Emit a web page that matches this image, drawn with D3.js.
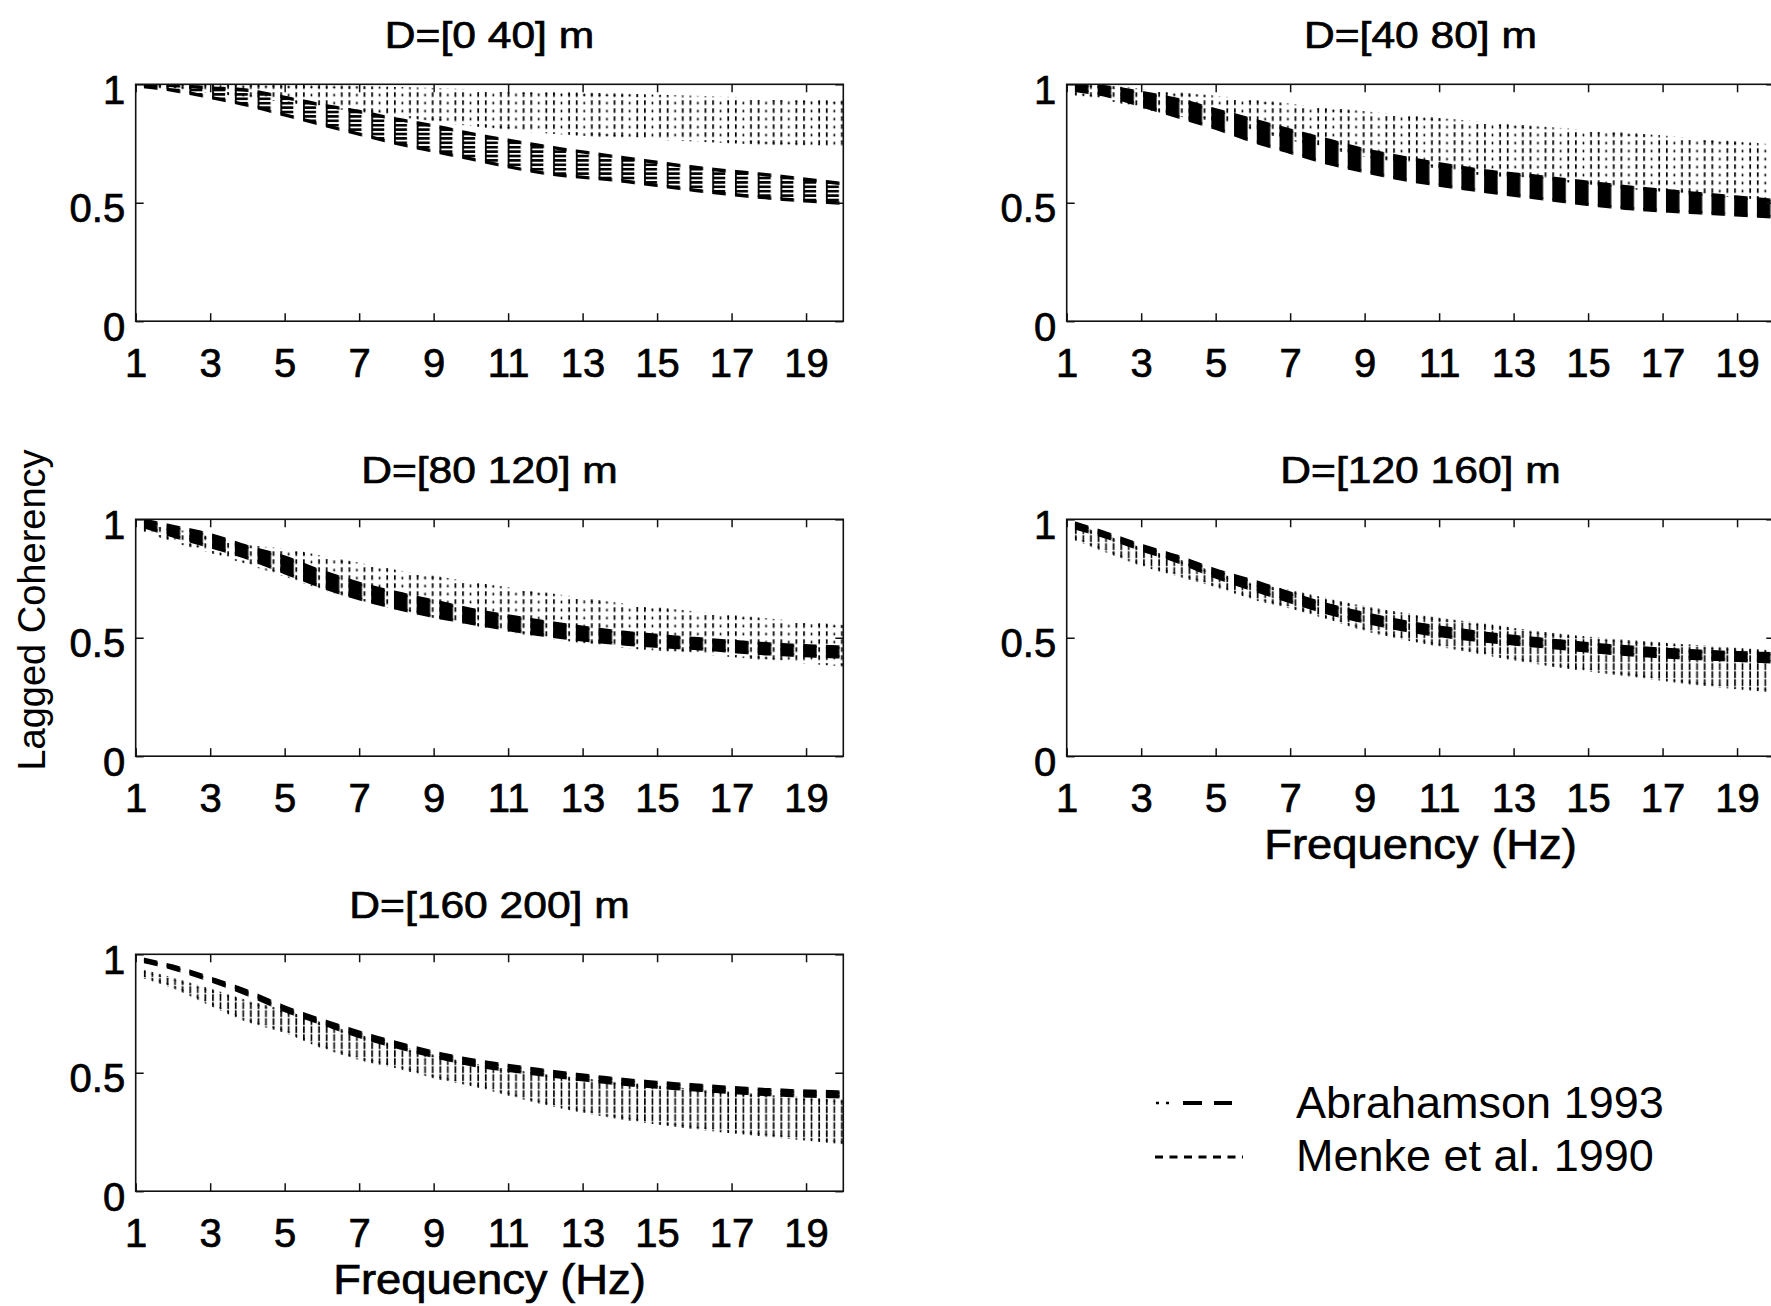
<!DOCTYPE html>
<html>
<head>
<meta charset="utf-8">
<script src="https://cdn.jsdelivr.net/npm/d3@7"></script>
<style>
  html, body { margin: 0; padding: 0; background: #fff; }
  svg { display: block; }
  text { font-family: "Liberation Sans", Arial, Helvetica, sans-serif; fill: #000; }
  .heavy { stroke: #000; stroke-width: 0.7px; }
</style>
</head>
<body>
<svg id="chart" width="1771" height="1306"></svg>
<script>
// ---- data -------------------------------------------------------------
const freqHz = [1.2, 2, 3, 4, 5, 6, 7, 8, 9, 10, 12, 14, 16, 18, 20];
const xTickValues = [1, 3, 5, 7, 9, 11, 13, 15, 17, 19];
const yTickValues = [0, 0.5, 1];
const binTitles = ["D=[0 40] m", "D=[40 80] m", "D=[80 120] m", "D=[120 160] m", "D=[160 200] m"];
const legendLabels = ["Abrahamson 1993", "Menke et al. 1990"];

// Abrahamson (1993) lagged coherency: upper / lower edge of the curve family
const abrHi_0_40   = [0.998, 0.995, 0.985, 0.975, 0.945, 0.913, 0.885, 0.853, 0.825, 0.792, 0.738, 0.692, 0.650, 0.617, 0.580];
const abrLo_0_40   = [0.990, 0.975, 0.945, 0.912, 0.871, 0.830, 0.790, 0.751, 0.718, 0.685, 0.624, 0.593, 0.553, 0.520, 0.498];
const abrHi_40_80  = [0.997, 0.990, 0.966, 0.935, 0.892, 0.850, 0.806, 0.765, 0.724, 0.692, 0.640, 0.605, 0.568, 0.538, 0.510];
const abrLo_40_80  = [0.975, 0.955, 0.910, 0.862, 0.815, 0.760, 0.713, 0.667, 0.632, 0.600, 0.553, 0.512, 0.477, 0.458, 0.440];
const abrHi_80_120 = [0.997, 0.970, 0.935, 0.885, 0.840, 0.780, 0.730, 0.690, 0.655, 0.620, 0.567, 0.525, 0.497, 0.474, 0.460];
const abrLo_80_120 = [0.970, 0.930, 0.885, 0.837, 0.775, 0.715, 0.665, 0.625, 0.590, 0.562, 0.510, 0.475, 0.455, 0.432, 0.418];
const abrHi_120_160 = [0.985, 0.945, 0.890, 0.842, 0.785, 0.740, 0.688, 0.640, 0.602, 0.570, 0.524, 0.490, 0.462, 0.443, 0.432];
const abrLo_120_160 = [0.965, 0.928, 0.872, 0.820, 0.757, 0.703, 0.653, 0.605, 0.567, 0.535, 0.490, 0.460, 0.430, 0.412, 0.398];
const abrHi_160_200 = [0.980, 0.950, 0.900, 0.845, 0.777, 0.722, 0.672, 0.627, 0.587, 0.555, 0.510, 0.473, 0.448, 0.428, 0.418];
const abrLo_160_200 = [0.970, 0.940, 0.890, 0.831, 0.763, 0.708, 0.654, 0.609, 0.569, 0.535, 0.490, 0.453, 0.428, 0.408, 0.398];

// Menke et al. (1990) lagged coherency: upper / lower edge of the curve family
const menHi_0_40   = [1.000, 1.000, 0.998, 0.996, 0.993, 0.990, 0.986, 0.982, 0.978, 0.973, 0.963, 0.955, 0.945, 0.935, 0.925];
const menLo_0_40   = [0.995, 0.985, 0.970, 0.950, 0.930, 0.910, 0.890, 0.870, 0.850, 0.830, 0.800, 0.780, 0.765, 0.750, 0.737];
const menHi_40_80  = [1.000, 0.990, 0.975, 0.960, 0.945, 0.930, 0.912, 0.895, 0.880, 0.865, 0.838, 0.812, 0.790, 0.765, 0.740];
const menLo_40_80  = [0.960, 0.940, 0.905, 0.870, 0.850, 0.810, 0.770, 0.735, 0.700, 0.675, 0.625, 0.600, 0.565, 0.540, 0.515];
const menHi_80_120 = [0.985, 0.955, 0.920, 0.885, 0.870, 0.840, 0.810, 0.780, 0.755, 0.730, 0.685, 0.640, 0.605, 0.575, 0.548];
const menLo_80_120 = [0.955, 0.910, 0.865, 0.815, 0.765, 0.710, 0.665, 0.625, 0.590, 0.560, 0.505, 0.465, 0.440, 0.410, 0.385];
const menHi_120_160 = [0.975, 0.930, 0.875, 0.825, 0.770, 0.725, 0.695, 0.660, 0.628, 0.600, 0.558, 0.515, 0.485, 0.462, 0.440];
const menLo_120_160 = [0.920, 0.870, 0.810, 0.765, 0.720, 0.668, 0.630, 0.585, 0.535, 0.500, 0.440, 0.385, 0.345, 0.305, 0.275];
const menHi_160_200 = [0.930, 0.895, 0.848, 0.800, 0.758, 0.705, 0.655, 0.610, 0.570, 0.535, 0.488, 0.455, 0.425, 0.400, 0.380];
const menLo_160_200 = [0.905, 0.863, 0.790, 0.720, 0.675, 0.610, 0.560, 0.525, 0.483, 0.450, 0.370, 0.310, 0.268, 0.235, 0.205];

// frequency sampling of the spectra (column spacing of the plotted marks)
const firstSampleHz = 1.2207;
const sampleStepHz = 0.6104;

// ---- layout -----------------------------------------------------------
const W = 707.6, H = 236.9;
const colX = [135.7, 1066.7];
const rowY = [84.3, 519.3, 954.3];
const grid = [[0, 0], [1, 0], [0, 1], [1, 1], [0, 2]];

const bins = [
  { title: binTitles[0], abrHi: abrHi_0_40,    abrLo: abrLo_0_40,    menHi: menHi_0_40,    menLo: menLo_0_40,    abrFill: "abrStriped", menFill: "menDots",  xLabel: false },
  { title: binTitles[1], abrHi: abrHi_40_80,   abrLo: abrLo_40_80,   menHi: menHi_40_80,   menLo: menLo_40_80,   abrFill: "abrSolid",   menFill: "menDots",  xLabel: false },
  { title: binTitles[2], abrHi: abrHi_80_120,  abrLo: abrLo_80_120,  menHi: menHi_80_120,  menLo: menLo_80_120,  abrFill: "abrSolid",   menFill: "menDots",  xLabel: false },
  { title: binTitles[3], abrHi: abrHi_120_160, abrLo: abrLo_120_160, menHi: menHi_120_160, menLo: menLo_120_160, abrFill: "abrSolid",   menFill: "menLines", xLabel: true },
  { title: binTitles[4], abrHi: abrHi_160_200, abrLo: abrLo_160_200, menHi: menHi_160_200, menLo: menLo_160_200, abrFill: "abrSolid",   menFill: "menLines", xLabel: true }
];

const x = d3.scaleLinear().domain([1, 20]).range([0, W]);
const y = d3.scaleLinear().domain([0, 1]).range([H, 0]);

const svg = d3.select("#chart");
svg.append("rect").attr("width", 1771).attr("height", 1306).attr("fill", "#fff");
const defs = svg.append("defs");

// hatch tiles: one column per spectral sample, so the bands read as
// the stacked dashes / dots of the individual distance curves
const step = x(1 + sampleStepHz) - x(1);
const x0 = x(firstSampleHz);
function hatch(id, h, rects) {
  const p = defs.append("pattern")
    .attr("id", id)
    .attr("patternUnits", "userSpaceOnUse")
    .attr("x", x0).attr("y", 0)
    .attr("width", step).attr("height", h);
  rects.forEach(r => p.append("rect")
    .attr("x", r[0]).attr("y", r[1]).attr("width", r[2]).attr("height", r[3])
    .attr("fill", "#000"));
}
hatch("abrSolid", 12, [[0, 0, 13.5, 12]]);
hatch("abrStriped", 4.4, [[0, 0, 13, 2.6], [0, 0, 1.8, 4.4]]);
hatch("menDots", 8, [[0, 0, 1.7, 4.6], [step / 3, 1.5, 1.6, 2.6], [2 * step / 3, 0, 1.7, 4.6]]);
hatch("menLines", 8, [[0, 0, 1.7, 6.8], [step / 3, 0, 1.6, 6.8], [2 * step / 3, 0, 1.7, 6.8]]);

const band = d3.area()
  .x(d => x(d.f)).y0(d => y(d.lo)).y1(d => y(d.hi))
  .curve(d3.curveMonotoneX);
const edgeHi = d3.line().x(d => x(d.f)).y(d => y(d.hi)).curve(d3.curveMonotoneX);
const edgeLo = d3.line().x(d => x(d.f)).y(d => y(d.lo)).curve(d3.curveMonotoneX);

function styleAxis(a) {
  a.select(".domain").remove();
  a.selectAll(".tick line").attr("stroke", "#111").attr("stroke-width", 1.5);
  a.attr("font-size", 40).attr("font-family", "\"Liberation Sans\", Arial, sans-serif");
  a.selectAll(".tick text").attr("fill", "#000").attr("class", "heavy");
}

bins.forEach((b, i) => {
  const [c, r] = grid[i];
  const g = svg.append("g").attr("transform", `translate(${colX[c]},${rowY[r]})`);

  const clipId = "clip" + i;
  defs.append("clipPath").attr("id", clipId)
    .append("rect").attr("width", W).attr("height", H);
  const plot = g.append("g").attr("clip-path", `url(#${clipId})`);

  const men = freqHz.map((f, k) => ({ f, hi: b.menHi[k], lo: b.menLo[k] }));
  const abr = freqHz.map((f, k) => ({ f, hi: b.abrHi[k], lo: b.abrLo[k] }));

  // Menke et al. 1990 (dotted family)
  plot.append("path").attr("d", band(men)).attr("fill", `url(#${b.menFill})`);
  [edgeHi, edgeLo].forEach(fn => plot.append("path").attr("d", fn(men))
    .attr("fill", "none").attr("stroke", `url(#${b.menFill})`).attr("stroke-width", 3));

  // Abrahamson 1993 (dashed family)
  plot.append("path").attr("d", band(abr)).attr("fill", `url(#${b.abrFill})`);
  [edgeHi, edgeLo].forEach(fn => plot.append("path").attr("d", fn(abr))
    .attr("fill", "none").attr("stroke", "url(#abrSolid)").attr("stroke-width", 3.4));

  // axes with inward ticks on all four sides
  g.append("g").attr("transform", `translate(0,${H})`)
    .call(d3.axisBottom(x).tickValues(xTickValues).tickSizeInner(-8).tickSizeOuter(0)
      .tickPadding(27.5).tickFormat(d3.format("d")))
    .call(styleAxis);
  g.append("g")
    .call(d3.axisTop(x).tickValues(xTickValues).tickSizeInner(-8).tickSizeOuter(0).tickFormat(() => ""))
    .call(styleAxis);
  g.append("g")
    .call(d3.axisLeft(y).tickValues(yTickValues).tickSizeInner(-8).tickSizeOuter(0)
      .tickPadding(10.5).tickFormat(d => d === 0.5 ? "0.5" : d3.format("d")(d)))
    .call(styleAxis)
    .call(a => a.selectAll(".tick text").attr("dy", "0.48em"));
  g.append("g").attr("transform", `translate(${W},0)`)
    .call(d3.axisRight(y).tickValues(yTickValues).tickSizeInner(-8).tickSizeOuter(0).tickFormat(() => ""))
    .call(styleAxis);

  g.append("rect").attr("width", W).attr("height", H)
    .attr("fill", "none").attr("stroke", "#111").attr("stroke-width", 1.6);

  const t = g.append("text")
    .attr("class", "heavy")
    .attr("x", W / 2).attr("y", -36)
    .attr("text-anchor", "middle")
    .attr("font-size", 37)
    .text(b.title);
  t.attr("textLength", t.node().getComputedTextLength() * 1.15).attr("lengthAdjust", "spacingAndGlyphs");

  if (b.xLabel) {
    const xl = g.append("text")
      .attr("class", "heavy")
      .attr("x", W / 2).attr("y", H + 103)
      .attr("text-anchor", "middle")
      .attr("font-size", 42)
      .text("Frequency (Hz)");
    xl.attr("textLength", xl.node().getComputedTextLength() * 1.08).attr("lengthAdjust", "spacingAndGlyphs");
  }
});

// shared y-axis label
svg.append("text")
  .attr("transform", "translate(45,610) rotate(-90)")
  .attr("text-anchor", "middle")
  .attr("font-size", 38)
  .text("Lagged Coherency");

// legend
const lg = svg.append("g");
// Abrahamson sample: two dots followed by two long dashes
[[1156, 1159], [1166, 1169]].forEach(s => lg.append("line")
  .attr("x1", s[0]).attr("x2", s[1]).attr("y1", 1103).attr("y2", 1103)
  .attr("stroke", "#000").attr("stroke-width", 2.5));
[[1183, 1202], [1214, 1232]].forEach(s => lg.append("line")
  .attr("x1", s[0]).attr("x2", s[1]).attr("y1", 1103).attr("y2", 1103)
  .attr("stroke", "#000").attr("stroke-width", 4));
// Menke sample: short dashes
lg.append("line").attr("x1", 1155).attr("x2", 1243).attr("y1", 1157).attr("y2", 1157)
  .attr("stroke", "#000").attr("stroke-width", 3)
  .attr("stroke-dasharray", "8,6.5");

lg.selectAll("text.lab").data(legendLabels).join("text")
  .attr("class", "lab")
  .attr("x", 1296)
  .attr("y", (d, k) => 1118 + k * 53)
  .attr("font-size", 45)
  .text(d => d);
</script>
</body>
</html>
